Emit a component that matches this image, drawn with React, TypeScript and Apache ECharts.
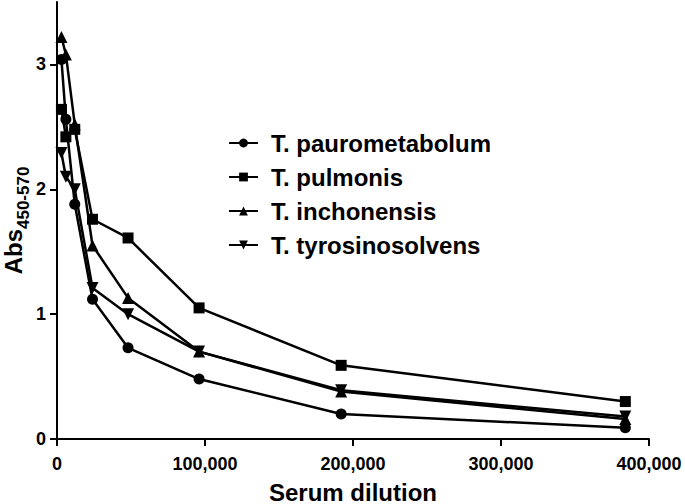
import React, { useEffect, useRef } from "react";
import * as echarts from "echarts";

const dilutions = [3000, 6000, 12000, 24000, 48000, 96000, 192000, 384000];
const seriesNames = ["T. paurometabolum", "T. pulmonis", "T. inchonensis", "T. tyrosinosolvens"];
const pauroValues = [3.04, 2.56, 1.88, 1.12, 0.73, 0.48, 0.2, 0.09];
const pulmonisValues = [2.64, 2.42, 2.48, 1.76, 1.61, 1.05, 0.59, 0.3];
const inchonValues = [3.22, 3.08, 2.52, 1.55, 1.13, 0.7, 0.38, 0.16];
const tyrosValues = [2.29, 2.1, 2.0, 1.21, 1.0, 0.7, 0.39, 0.18];
const xTicks = [0, 100000, 200000, 300000, 400000];
const yTicks = [0, 1, 2, 3];

const FONT = "'Liberation Sans', Arial, sans-serif";

export default function App() {
  const ref = useRef<HTMLDivElement>(null);
  useEffect(() => {
    document.body.style.margin = "0";
    if (!ref.current) return;
    const chart = echarts.init(ref.current, undefined, { renderer: "svg" });
    const mk = (name: string, vals: number[], symbol: string, size: number, rotate = 0) => ({
      name,
      type: "line",
      data: dilutions.map((d, i) => [d, vals[i]]),
      symbol,
      symbolSize: size,
      symbolRotate: rotate,
      showAllSymbol: true,
      lineStyle: { color: "#000", width: 2.5 },
      itemStyle: { color: "#000" },
    });
    chart.setOption({
      animation: false,
      backgroundColor: "#fff",
      textStyle: { fontFamily: FONT },
      grid: { left: 57, right: 36, top: 2, bottom: 65, outerBoundsMode: "none", containLabel: false },
      legend: {
        orient: "vertical",
        left: 223,
        top: 126,
        itemWidth: 29,
        itemHeight: 11,
        itemGap: 10,
        data: seriesNames,
        textStyle: { fontFamily: FONT, fontSize: 24, fontWeight: "bold", color: "#000", padding: [0, 0, 0, 8] },
      },
      xAxis: {
        type: "value",
        min: 0,
        max: 400000,
        interval: 100000,
        name: "Serum dilution",
        nameLocation: "middle",
        nameGap: 41,
        nameMoveOverlap: false,
        nameTextStyle: { fontFamily: FONT, fontSize: 24, fontWeight: "bold", color: "#000" },
        splitLine: { show: false },
        axisLine: { lineStyle: { color: "#000", width: 2 } },
        axisTick: { length: 7, lineStyle: { color: "#000", width: 2 }, customValues: xTicks },
        axisLabel: {
          customValues: xTicks,
          fontFamily: FONT,
          fontSize: 18,
          fontWeight: "bold",
          color: "#000",
          margin: 16,
          formatter: (v: number) => v.toLocaleString("en-US"),
        },
      },
      yAxis: {
        type: "value",
        min: 0,
        max: 3.5,
        interval: 1,
        name: "{a|Abs}{s|450-570}",
        nameLocation: "middle",
        nameGap: 32,
        nameMoveOverlap: false,
        nameTextStyle: {
          rich: {
            a: { fontFamily: FONT, fontSize: 24, fontWeight: "bold", color: "#000", lineHeight: 28, verticalAlign: "bottom" },
            s: { fontFamily: FONT, fontSize: 17, fontWeight: "bold", color: "#000", lineHeight: 28, verticalAlign: "bottom", padding: [0, 0, -7, 0] },
          },
        },
        splitLine: { show: false },
        axisLine: { show: true, lineStyle: { color: "#000", width: 2 } },
        axisTick: { show: true, length: 7, lineStyle: { color: "#000", width: 2 }, customValues: yTicks },
        axisLabel: {
          customValues: yTicks,
          fontFamily: FONT,
          fontSize: 18,
          fontWeight: "bold",
          color: "#000",
          margin: 11,
        },
      },
      series: [
        mk(seriesNames[0], pauroValues, "circle", 11),
        mk(seriesNames[1], pulmonisValues, "rect", 11),
        mk(seriesNames[2], inchonValues, "triangle", 12),
        mk(seriesNames[3], tyrosValues, "triangle", 12, 180),
      ],
    });
    return () => chart.dispose();
  }, []);
  return <div ref={ref} style={{ width: 685, height: 504 }} />;
}
